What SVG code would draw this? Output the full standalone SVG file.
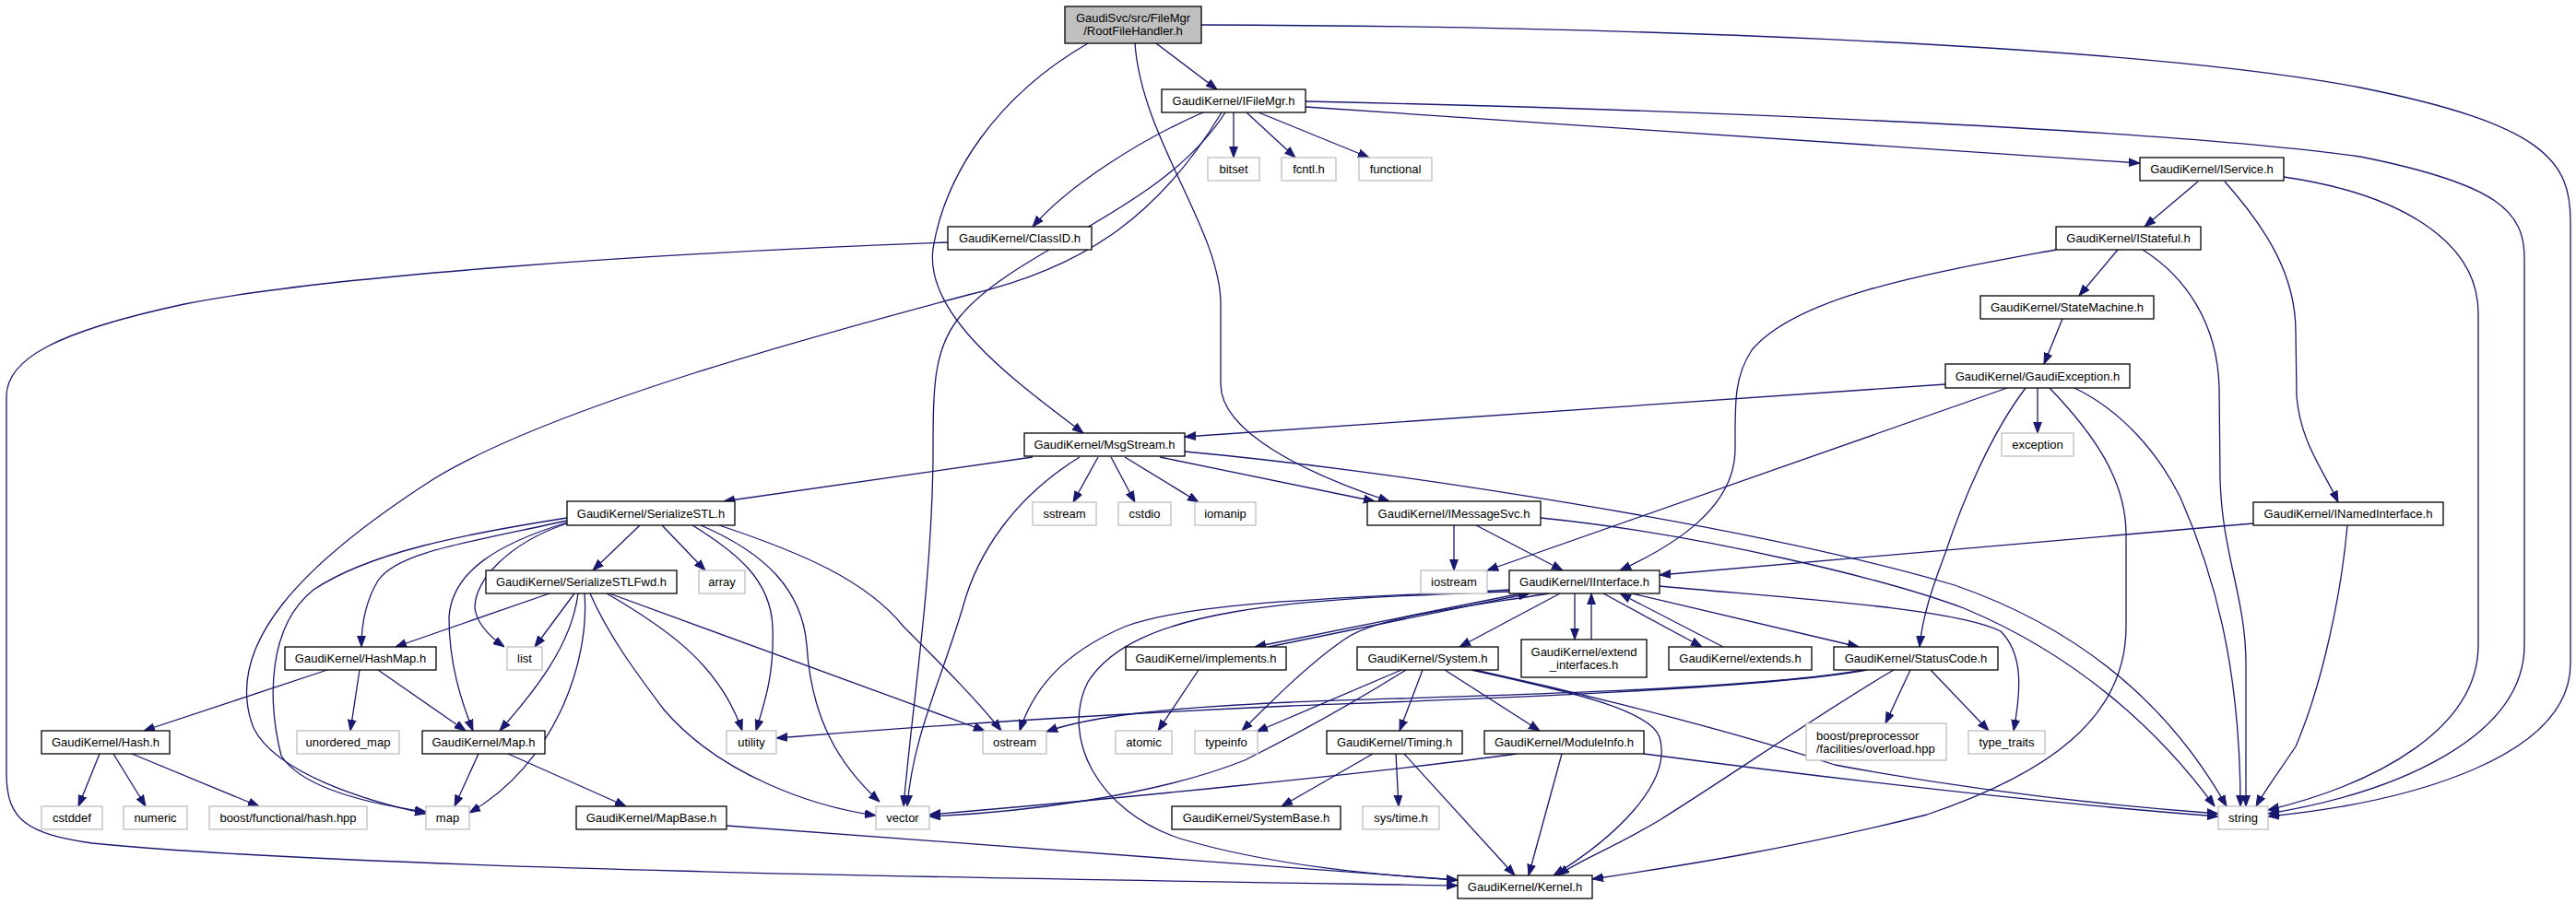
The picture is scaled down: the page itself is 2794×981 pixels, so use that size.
<svg xmlns="http://www.w3.org/2000/svg" width="2794" height="981" viewBox="0 0 2794 981">
<style>
.n rect{fill:#fff;stroke:#000;stroke-width:1.3}
.g rect{fill:#fff;stroke:#bfbfbf;stroke-width:1.3}
.r rect{fill:#bfbfbf;stroke:#000;stroke-width:1.3}
text{font-family:"Liberation Sans",Arial,Helvetica,sans-serif;font-size:13px;text-anchor:middle;fill:#000}
.e path{fill:none;stroke:#191970;stroke-width:1.3;marker-end:url(#a)}
</style>
<defs>
<marker id="a" markerWidth="12" markerHeight="10" refX="12" refY="5" orient="auto" markerUnits="userSpaceOnUse">
<path d="M0,0.6 L12,5 L0,9.4 z" fill="#191970" stroke="#191970" stroke-width="1"/>
</marker>
</defs>
<rect width="2794" height="981" fill="#fff"/>
<g id="edges" class="e">
<path d="M1254,47 L1320,97"/>
<path d="M1180,47 C1080,105 1025,190 1012,270 C1002,345 1110,420 1175,470"/>
<path d="M1231,47 C1238,150 1324,250 1324,330 L1324,417 C1324,470 1420,515 1507,544"/>
<path d="M1303,27 C1700,28 2300,45 2560,95 C2760,135 2788,175 2788,240 L2788,720 C2788,820 2620,870 2460,886"/>
<path d="M1338,122 L1338,171"/>
<path d="M1352,122 L1405,171"/>
<path d="M1365,122 L1485,171"/>
<path d="M1416,116 C1700,135 2100,163 2321,177"/>
<path d="M1416,110 C1800,118 2350,140 2560,170 C2710,200 2738,230 2738,280 L2738,700 C2738,800 2600,860 2460,883"/>
<path d="M1305,122 C1240,150 1160,200 1120,246"/>
<path d="M1325,122 C1260,230 1180,290 1050,320 C900,360 600,440 470,520 C330,610 240,700 275,790 C300,840 400,870 462,883"/>
<path d="M1329,122 C1260,230 1100,270 1040,345 C1012,380 1012,420 1012,500 C1010,640 990,760 980,875"/>
<path d="M1028,263 C700,275 350,300 200,330 C60,360 7,390 7,430 L7,840 C7,890 30,905 100,915 C400,945 1200,955 1581,961"/>
<path d="M1120,496 L785,544"/>
<path d="M1171,496 C1100,540 1060,600 1044,660 C1020,740 990,800 984,875"/>
<path d="M1191,496 L1164,545"/>
<path d="M1205,496 L1231,545"/>
<path d="M1220,496 L1300,545"/>
<path d="M1258,496 L1491,544"/>
<path d="M1285,490 C1500,510 1900,570 2120,635 C2250,680 2350,760 2415,875"/>
<path d="M1577,570 L1577,619"/>
<path d="M1601,570 L1695,619"/>
<path d="M1671,562 C1850,580 2050,630 2130,660 C2250,710 2340,790 2402,875"/>
<path d="M2110,417 L1285,474"/>
<path d="M2177,421 L1613,619"/>
<path d="M2210,421 L2210,470"/>
<path d="M2197,421 C2160,470 2130,540 2110,600 C2095,640 2085,670 2082,702"/>
<path d="M2223,421 C2270,470 2306,520 2306,580 L2306,680 C2306,780 2220,840 2090,884 C1950,920 1820,940 1727,954"/>
<path d="M2250,421 C2300,445 2340,490 2365,540 C2400,620 2430,720 2430,875"/>
<path d="M2324,271 C2370,300 2405,350 2407,420 L2408,520 C2410,600 2436,650 2436,720 L2436,875"/>
<path d="M2297,271 L2255,321"/>
<path d="M2230,271 C2100,295 1950,320 1900,380 C1880,410 1882,440 1882,490 C1880,550 1820,590 1757,619"/>
<path d="M2237,346 L2217,395"/>
<path d="M2384,197 L2326,246"/>
<path d="M2413,197 C2460,250 2490,300 2490,360 L2491,430 C2495,480 2520,510 2536,545"/>
<path d="M2477,192 C2600,210 2688,260 2688,340 L2688,700 C2688,790 2580,850 2460,879"/>
<path d="M2546,570 C2540,640 2520,740 2490,810 C2470,840 2455,860 2447,875"/>
<path d="M2444,568 L1800,624"/>
<path d="M718,570 L765,619"/>
<path d="M694,570 L643,619"/>
<path d="M615,562 C500,580 400,600 340,640 C290,680 290,760 305,820 C330,860 420,875 462,881"/>
<path d="M615,565 C500,590 430,600 410,630 C395,655 392,680 392,702"/>
<path d="M615,567 C540,590 490,620 487,670 C487,720 500,760 513,793"/>
<path d="M615,568 C550,590 515,630 515,660 C517,675 530,690 547,702"/>
<path d="M751,570 C800,600 836,630 838,680 C840,730 830,760 820,793"/>
<path d="M760,570 C830,600 870,640 875,700 C880,780 910,830 954,870"/>
<path d="M780,570 C870,600 940,630 980,680 C1020,720 1060,760 1086,793"/>
<path d="M596,644 L429,702"/>
<path d="M623,644 L580,702"/>
<path d="M627,644 C620,700 580,750 542,793"/>
<path d="M634,644 C640,720 600,830 509,882"/>
<path d="M640,644 C660,690 690,730 720,770 C780,840 880,875 950,885"/>
<path d="M661,644 L1068,793"/>
<path d="M658,644 C720,680 780,720 805,793"/>
<path d="M355,727 L156,793"/>
<path d="M390,727 L380,793"/>
<path d="M410,727 L505,793"/>
<path d="M519,818 L493,875"/>
<path d="M551,818 L679,875"/>
<path d="M108,818 L85,875"/>
<path d="M123,818 L158,875"/>
<path d="M143,818 L281,875"/>
<path d="M788,896 C1100,920 1400,940 1581,955"/>
<path d="M1650,644 L1361,702"/>
<path d="M1376,702 L1659,644"/>
<path d="M1637,640 C1500,648 1300,650 1220,680 C1150,710 1120,750 1106,793"/>
<path d="M1637,642 C1400,650 1230,660 1180,740 C1150,800 1190,880 1280,910 C1380,940 1500,950 1581,955"/>
<path d="M1692,644 L1583,702"/>
<path d="M1708,644 L1708,694"/>
<path d="M1726,694 L1726,644"/>
<path d="M1739,644 L1846,702"/>
<path d="M1869,702 L1757,644"/>
<path d="M1770,644 L2016,702"/>
<path d="M1680,644 C1580,660 1490,670 1458,694 C1420,720 1380,760 1347,793"/>
<path d="M1800,636 C1950,650 2120,660 2170,685 C2195,710 2192,750 2184,793"/>
<path d="M2025,727 C1900,750 1500,762 1400,766 C1200,775 1000,788 842,801"/>
<path d="M2022,727 C1880,752 1500,757 1400,762 C1260,768 1180,778 1135,794"/>
<path d="M2054,727 C1980,770 1880,840 1800,890 C1750,920 1710,935 1690,950"/>
<path d="M2072,727 L2045,785"/>
<path d="M2094,727 L2157,793"/>
<path d="M1300,727 L1256,793"/>
<path d="M1525,727 C1480,755 1420,790 1350,825 C1250,865 1100,882 1008,886"/>
<path d="M1520,727 L1363,794"/>
<path d="M1543,727 L1518,793"/>
<path d="M1567,727 L1670,793"/>
<path d="M1596,727 C1700,750 1790,770 1800,800 C1815,850 1750,910 1685,950"/>
<path d="M1600,727 C1750,760 1900,800 1990,830 C2150,860 2300,875 2406,883"/>
<path d="M1489,818 L1390,875"/>
<path d="M1514,818 L1517,875"/>
<path d="M1523,818 L1643,950"/>
<path d="M1645,818 C1500,838 1200,868 1008,884"/>
<path d="M1694,818 L1658,950"/>
<path d="M1783,818 C1950,840 2200,870 2406,886"/>
</g>
<g id="n_root" class="r"><rect x="1155" y="7" width="148" height="40"/><text x="1229" y="24">GaudiSvc/src/FileMgr</text><text x="1229" y="38">/RootFileHandler.h</text></g>
<g id="n_ifilemgr" class="n"><rect x="1260" y="97" width="156" height="25"/><text x="1338" y="114">GaudiKernel/IFileMgr.h</text></g>
<g id="n_bitset" class="g"><rect x="1310" y="171" width="56" height="25"/><text x="1338" y="188">bitset</text></g>
<g id="n_fcntl" class="g"><rect x="1390" y="171" width="59" height="25"/><text x="1419.5" y="188">fcntl.h</text></g>
<g id="n_functional" class="g"><rect x="1474" y="171" width="79" height="25"/><text x="1513.5" y="188">functional</text></g>
<g id="n_iservice" class="n"><rect x="2321" y="171" width="156" height="25"/><text x="2399" y="188">GaudiKernel/IService.h</text></g>
<g id="n_classid" class="n"><rect x="1028" y="246" width="156" height="25"/><text x="1106" y="263">GaudiKernel/ClassID.h</text></g>
<g id="n_istateful" class="n"><rect x="2230" y="246" width="157" height="25"/><text x="2308.5" y="263">GaudiKernel/IStateful.h</text></g>
<g id="n_statemachine" class="n"><rect x="2148" y="321" width="188" height="25"/><text x="2242" y="338">GaudiKernel/StateMachine.h</text></g>
<g id="n_gaudiexception" class="n"><rect x="2110" y="395" width="200" height="26"/><text x="2210" y="412.5">GaudiKernel/GaudiException.h</text></g>
<g id="n_msgstream" class="n"><rect x="1111" y="470" width="174" height="25"/><text x="1198" y="487">GaudiKernel/MsgStream.h</text></g>
<g id="n_exception" class="g"><rect x="2171" y="470" width="78" height="25"/><text x="2210" y="487">exception</text></g>
<g id="n_serializestl" class="n"><rect x="615" y="544" width="182" height="26"/><text x="706" y="561.5">GaudiKernel/SerializeSTL.h</text></g>
<g id="n_sstream" class="g"><rect x="1120" y="545" width="69" height="25"/><text x="1154.5" y="562">sstream</text></g>
<g id="n_cstdio" class="g"><rect x="1213" y="545" width="57" height="25"/><text x="1241.5" y="562">cstdio</text></g>
<g id="n_iomanip" class="g"><rect x="1296" y="545" width="66" height="25"/><text x="1329" y="562">iomanip</text></g>
<g id="n_imessagesvc" class="n"><rect x="1483" y="544" width="188" height="26"/><text x="1577" y="561.5">GaudiKernel/IMessageSvc.h</text></g>
<g id="n_inamedinterface" class="n"><rect x="2444" y="545" width="206" height="25"/><text x="2547" y="562">GaudiKernel/INamedInterface.h</text></g>
<g id="n_serializestlfwd" class="n"><rect x="527" y="619" width="207" height="25"/><text x="630.5" y="636">GaudiKernel/SerializeSTLFwd.h</text></g>
<g id="n_array" class="g"><rect x="758" y="619" width="50" height="25"/><text x="783" y="636">array</text></g>
<g id="n_iostream" class="g"><rect x="1541" y="619" width="72" height="25"/><text x="1577" y="636">iostream</text></g>
<g id="n_iinterface" class="n"><rect x="1637" y="619" width="163" height="25"/><text x="1718.5" y="636">GaudiKernel/IInterface.h</text></g>
<g id="n_hashmap" class="n"><rect x="309" y="702" width="164" height="25"/><text x="391" y="719">GaudiKernel/HashMap.h</text></g>
<g id="n_list" class="g"><rect x="550" y="702" width="38" height="25"/><text x="569" y="719">list</text></g>
<g id="n_implements" class="n"><rect x="1221" y="702" width="174" height="25"/><text x="1308" y="719">GaudiKernel/implements.h</text></g>
<g id="n_system" class="n"><rect x="1472" y="702" width="153" height="25"/><text x="1548.5" y="719">GaudiKernel/System.h</text></g>
<g id="n_extend_interfaces" class="n"><rect x="1650" y="694" width="136" height="41"/><text x="1718" y="712">GaudiKernel/extend</text><text x="1718" y="726">_interfaces.h</text></g>
<g id="n_extends" class="n"><rect x="1810" y="702" width="155" height="25"/><text x="1887.5" y="719">GaudiKernel/extends.h</text></g>
<g id="n_statuscode" class="n"><rect x="1989" y="702" width="178" height="25"/><text x="2078" y="719">GaudiKernel/StatusCode.h</text></g>
<g id="n_hash" class="n"><rect x="45" y="793" width="139" height="25"/><text x="114.5" y="810">GaudiKernel/Hash.h</text></g>
<g id="n_unordered_map" class="g"><rect x="322" y="793" width="111" height="25"/><text x="377.5" y="810">unordered_map</text></g>
<g id="n_map_h" class="n"><rect x="458" y="793" width="133" height="25"/><text x="524.5" y="810">GaudiKernel/Map.h</text></g>
<g id="n_utility" class="g"><rect x="788" y="793" width="54" height="25"/><text x="815" y="810">utility</text></g>
<g id="n_ostream" class="g"><rect x="1066" y="793" width="69" height="25"/><text x="1100.5" y="810">ostream</text></g>
<g id="n_atomic" class="g"><rect x="1210" y="793" width="61" height="25"/><text x="1240.5" y="810">atomic</text></g>
<g id="n_typeinfo" class="g"><rect x="1296" y="793" width="68" height="25"/><text x="1330" y="810">typeinfo</text></g>
<g id="n_timing" class="n"><rect x="1439" y="793" width="147" height="25"/><text x="1512.5" y="810">GaudiKernel/Timing.h</text></g>
<g id="n_moduleinfo" class="n"><rect x="1610" y="793" width="173" height="25"/><text x="1696.5" y="810">GaudiKernel/ModuleInfo.h</text></g>
<g id="n_overload" class="g"><rect x="1959" y="785" width="152" height="40"/><text x="1970" y="803" style="text-anchor:start">boost/preprocessor</text><text x="1970" y="817" style="text-anchor:start">/facilities/overload.hpp</text></g>
<g id="n_type_traits" class="g"><rect x="2135" y="793" width="83" height="25"/><text x="2176.5" y="810">type_traits</text></g>
<g id="n_cstddef" class="g"><rect x="45" y="875" width="66" height="25"/><text x="78" y="892">cstddef</text></g>
<g id="n_numeric" class="g"><rect x="134" y="875" width="69" height="25"/><text x="168.5" y="892">numeric</text></g>
<g id="n_hashhpp" class="g"><rect x="227" y="875" width="171" height="25"/><text x="312.5" y="892">boost/functional/hash.hpp</text></g>
<g id="n_map" class="g"><rect x="462" y="875" width="47" height="25"/><text x="485.5" y="892">map</text></g>
<g id="n_mapbase" class="n"><rect x="625" y="875" width="163" height="25"/><text x="706.5" y="892">GaudiKernel/MapBase.h</text></g>
<g id="n_vector" class="g"><rect x="950" y="875" width="58" height="25"/><text x="979" y="892">vector</text></g>
<g id="n_systembase" class="n"><rect x="1271" y="875" width="183" height="25"/><text x="1362.5" y="892">GaudiKernel/SystemBase.h</text></g>
<g id="n_systime" class="g"><rect x="1478" y="875" width="83" height="25"/><text x="1519.5" y="892">sys/time.h</text></g>
<g id="n_string" class="g"><rect x="2406" y="875" width="54" height="25"/><text x="2433" y="892">string</text></g>
<g id="n_kernel" class="n"><rect x="1581" y="950" width="146" height="25"/><text x="1654" y="967">GaudiKernel/Kernel.h</text></g>
</svg>
